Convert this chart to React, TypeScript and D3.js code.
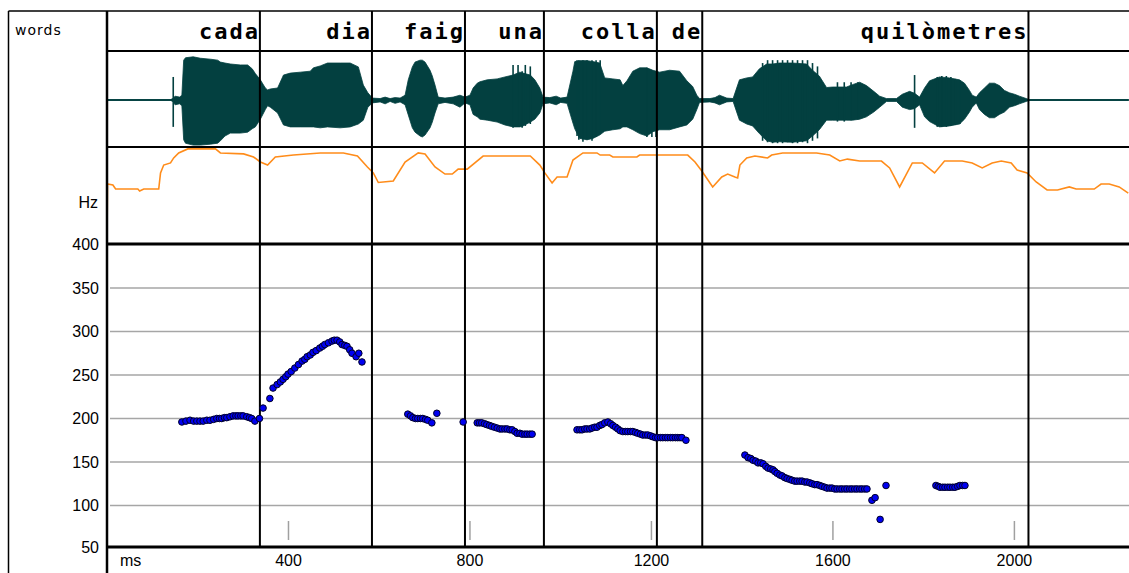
import React from "react";
import * as d3 from "d3";

// ---------- data ----------
const WORDS = ["cada", "dia", "faig", "una", "colla", "de", "quilòmetres", ""];
const WORD_BOUNDS = [0, 337, 584, 789, 963, 1212, 1312, 2031, 2251];

const TIME_TICKS = [400, 800, 1200, 1600, 2000];
const HZ_TICKS = [400, 350, 300, 250, 200, 150, 100, 50];

// pitch points: [ms, Hz]
const PITCH = [
  [165, 196], [174, 197], [183, 198], [191, 197], [198, 197], [205, 197], [212, 197], [220, 198], [227, 198],
  [235, 199], [242, 200], [248, 200], [253, 200], [259, 201], [264, 201], [271, 202], [278, 203], [284, 203],
  [289, 203], [295, 203], [300, 203], [308, 202], [314, 201], [319, 200], [326, 197], [336, 200],
  [344, 212], [359, 223], [366, 235], [375, 239], [382, 242], [388, 245], [394, 248], [399, 251], [406, 254],
  [414, 258], [422, 262], [430, 266], [436, 268], [441, 271], [448, 273], [454, 276], [461, 278], [469, 281],
  [475, 283], [480, 285], [488, 287], [496, 289], [501, 290], [507, 290], [513, 288], [518, 285], [524, 284],
  [529, 283], [535, 279], [540, 275], [549, 271], [555, 275], [562, 265],
  [663, 205], [669, 203], [674, 201], [680, 200], [685, 200], [691, 200], [696, 200], [702, 199], [707, 198],
  [716, 195], [727, 206],
  [785, 196],
  [816, 195], [821, 195], [826, 195], [832, 194], [837, 193], [843, 192], [848, 191], [854, 190], [860, 189],
  [866, 188], [871, 188], [877, 188], [882, 188], [888, 187], [893, 187], [899, 185], [904, 183], [910, 183],
  [915, 182], [921, 182], [926, 182], [932, 182], [937, 182],
  [1036, 187], [1042, 187], [1047, 187], [1053, 188], [1058, 188], [1064, 188], [1069, 189], [1075, 190],
  [1080, 190], [1086, 192], [1091, 193], [1097, 195], [1104, 196], [1110, 194], [1115, 192], [1121, 190],
  [1126, 188], [1131, 186], [1137, 185], [1143, 185], [1148, 185], [1154, 185], [1159, 185], [1165, 184],
  [1170, 183], [1176, 182], [1181, 181], [1187, 181], [1192, 181], [1198, 180], [1203, 179], [1209, 178],
  [1214, 178], [1220, 178], [1225, 178], [1231, 178], [1236, 178], [1242, 178], [1247, 178], [1253, 178],
  [1258, 178], [1263, 178], [1267, 178], [1276, 175],
  [1406, 158], [1413, 155], [1419, 154], [1424, 152], [1430, 151], [1435, 149], [1441, 149], [1446, 148],
  [1452, 145], [1457, 143], [1463, 142], [1468, 141], [1472, 139], [1477, 137], [1483, 135], [1488, 134],
  [1494, 132], [1499, 131], [1505, 130], [1510, 129], [1516, 128], [1521, 128], [1527, 128], [1532, 128],
  [1538, 127], [1543, 127], [1549, 126], [1554, 125], [1560, 124], [1565, 124], [1571, 123], [1576, 122],
  [1582, 121], [1587, 120], [1593, 120], [1598, 120], [1604, 119], [1609, 119], [1615, 119], [1620, 119],
  [1626, 119], [1631, 119], [1637, 119], [1642, 119], [1648, 119], [1653, 119], [1659, 119], [1664, 119],
  [1670, 119], [1675, 119], [1686, 106], [1693, 109], [1704, 84], [1717, 123],
  [1827, 123], [1832, 122], [1836, 121], [1842, 121], [1847, 121], [1853, 121], [1858, 121], [1864, 121],
  [1869, 121], [1875, 122], [1880, 123], [1886, 123], [1891, 123],
];

// intensity curve: [ms, dB]
const INTENSITY = [
  [0, 30], [1, 60.7], [13, 60.2], [19, 58.1], [68, 58.1], [72, 57.1], [81, 58.1], [114, 58.1], [118, 66.5],
  [125, 70.6], [140, 71.7], [147, 74.3], [158, 76.9], [178, 79.0], [239, 79.0], [250, 76.9], [301, 76.4],
  [323, 74.8], [338, 72.2], [354, 70.6], [371, 74.8], [411, 75.8], [470, 76.9], [521, 76.9], [552, 75.3],
  [574, 69.6], [587, 66.5], [598, 61.5], [631, 62.3], [657, 72.2], [686, 76.9], [701, 76.4], [723, 69.6],
  [745, 65.9], [761, 65.9], [774, 68.5], [794, 68.5], [829, 75.3], [933, 75.3], [954, 70.6], [965, 66.5],
  [981, 61.3], [992, 64.4], [1014, 64.4], [1027, 73.2], [1049, 76.9], [1080, 76.9], [1087, 75.8], [1108, 75.8],
  [1115, 74.8], [1168, 74.8], [1174, 75.8], [1280, 75.8], [1296, 72.2], [1311, 67.5], [1335, 59.2], [1355, 64.4],
  [1368, 65.9], [1384, 64.4], [1390, 63.9], [1395, 70.6], [1410, 74.3], [1428, 75.3], [1456, 74.3], [1465, 75.8],
  [1489, 76.9], [1564, 76.9], [1593, 75.8], [1615, 72.7], [1632, 73.7], [1659, 72.7], [1707, 72.7], [1725, 69.1],
  [1747, 59.2], [1775, 71.7], [1797, 71.7], [1824, 66.5], [1846, 72.7], [1885, 72.7], [1907, 71.7], [1929, 69.1],
  [1951, 71.7], [1971, 72.7], [1993, 71.7], [2006, 68.0], [2028, 66.5], [2048, 61.8], [2072, 57.6], [2095, 57.6],
  [2121, 59.2], [2136, 58.1], [2176, 58.1], [2191, 60.7], [2209, 60.7], [2231, 59.2], [2251, 56.0],
];

// waveform envelope: [ms, top %, bottom %]
const WAVE_ENVELOPE = [
  [0, 1, -1], [140, 1, -1], [145, 3, -3], [150, 8, -10], [160, 6, -8], [165, 10, -12], [169, 83, -83],
  [173, 88, -90], [190, 90, -94], [206, 87, -94], [228, 85, -92], [244, 83, -90], [250, 79, -85], [260, 77, -75],
  [272, 75, -69], [294, 73, -69], [310, 73, -67], [320, 65, -60], [327, 55, -56], [338, 42, -40], [349, 25, -20],
  [354, 21, -12],
  [360, 23, -15], [376, 25, -27], [389, 52, -52], [404, 56, -56], [426, 58, -56], [448, 60, -56], [455, 67, -56],
  [470, 71, -58], [486, 77, -56], [514, 77, -58], [536, 77, -56], [554, 69, -50], [565, 31, -42], [575, 15, -15],
  [585, 4, -6],
  [602, 3, -4], [613, 6, -8], [624, 3, -3], [635, 5, -7], [646, 4, -4],
  [657, 10, -10], [664, 42, -31], [673, 69, -58], [679, 79, -67], [690, 83, -75], [695, 83, -77], [701, 79, -73],
  [712, 62, -58], [717, 50, -46], [723, 31, -27], [730, 6, -8],
  [745, 4, -5], [763, 6, -8], [778, 10, -15], [789, 6, -6], [800, 10, -10],
  [807, 25, -30], [816, 35, -35], [822, 38, -40], [838, 42, -42], [860, 44, -46], [877, 48, -52], [895, 52, -56],
  [910, 58, -56], [917, 56, -54], [933, 52, -46], [943, 42, -40], [954, 25, -27], [961, 6, -8],
  [976, 5, -6], [990, 8, -10], [1000, 4, -5], [1014, 6, -7],
  [1027, 60, -48], [1031, 80, -60], [1042, 82, -80], [1058, 82, -83], [1071, 80, -80], [1086, 77, -73],
  [1097, 46, -65], [1115, 44, -62], [1131, 42, -60], [1137, 30, -56], [1146, 40, -56], [1159, 60, -62],
  [1174, 67, -70], [1190, 67, -75], [1203, 62, -66], [1218, 58, -62], [1240, 62, -62], [1262, 60, -56],
  [1278, 40, -52], [1291, 28, -40], [1300, 10, -20], [1306, 3, -5],
  [1329, 3, -4], [1340, 5, -6], [1350, 10, -10], [1366, 4, -4], [1380, 3, -3],
  [1394, 42, -42], [1410, 46, -50], [1423, 48, -54], [1438, 65, -70], [1454, 75, -85], [1467, 75, -88],
  [1482, 77, -87], [1511, 77, -88], [1542, 75, -85], [1555, 62, -75], [1570, 50, -62], [1586, 26, -42],
  [1599, 27, -42], [1630, 27, -42], [1643, 32, -42], [1659, 37, -40], [1674, 30, -35], [1690, 18, -25],
  [1703, 8, -15], [1718, 3, -3],
  [1740, 3, -3], [1753, 12, -15], [1769, 18, -20], [1780, 14, -18], [1791, 6, -10], [1802, 25, -35],
  [1813, 40, -45], [1835, 48, -56], [1857, 46, -54], [1879, 42, -50], [1890, 35, -40], [1901, 20, -25],
  [1907, 10, -15], [1916, 6, -6], [1923, 15, -20], [1934, 25, -30], [1945, 35, -37], [1956, 35, -37],
  [1967, 30, -30], [1978, 20, -25], [1989, 15, -15], [2000, 12, -12], [2011, 8, -8], [2026, 3, -3],
  [2033, 1, -1], [2251, 1, -1],
];

// thin spikes of the waveform: [ms, top %, bottom %]
const WAVE_SPIKES = [
  [146, 48, -56],
  [895, 73, -58], [906, 73, -52], [915, 60, -58], [922, 73, -54], [933, 70, -50],
  [1036, 83, -75], [1040, 83, -83], [1049, 83, -87], [1058, 83, -83], [1069, 83, -85], [1078, 83, -77],
  [1087, 83, -70], [1190, 67, -77], [1201, 62, -77], [1210, 60, -77],
  [1445, 77, -85], [1456, 83, -88], [1467, 83, -90], [1478, 83, -90], [1489, 83, -90], [1500, 83, -88],
  [1511, 83, -90], [1522, 83, -90], [1533, 83, -88], [1544, 83, -90], [1555, 77, -85], [1566, 70, -80],
  [1610, 37, -45], [1625, 37, -45], [1640, 37, -42], [1655, 37, -40],
  [1780, 52, -58],
  [1830, 48, -56], [1840, 50, -56], [1850, 50, -56], [1860, 48, -54], [1870, 44, -52], [1880, 40, -50],
];

// ---------- layout ----------
const W = 1129;
const H = 573;
const LEFT = 8.5;
const COL = 107;
const TOP = 11;
const WORD_BOTTOM = 51;
const WAVE_BOTTOM = 147;
const INT_BOTTOM = 244;
const PITCH_BOTTOM = 547;

const x = d3.scaleLinear().domain([0, 2000]).range([107, 1014.4]);
const yHz = d3.scaleLinear().domain([50, 400]).range([549, 244.5]);
const yDb = d3.scaleLinear().domain([30, 80]).range([243, 147]);
const yAmp = d3.scaleLinear().domain([-100, 100]).range([148, 52]);

const WAVE_COLOR = "#034040";
const NUM_FONT = "'Liberation Sans', Arial, sans-serif";

export default function App() {
  const waveArea = d3
    .area<number[]>()
    .x((d) => x(d[0]))
    .y0((d) => yAmp(d[2]))
    .y1((d) => yAmp(d[1]))(WAVE_ENVELOPE as number[][]);

  const intLine = d3
    .line<number[]>()
    .x((d) => x(d[0]))
    .y((d) => yDb(d[1]))(INTENSITY as number[][]);

  const gridTicks = HZ_TICKS.filter((t) => t > 50 && t < 400);
  const ls = 2.0;

  return (
    <svg
      width={W}
      height={H}
      style={{ position: "absolute", left: 0, top: 0, background: "#fff" }}
    >
      <rect x={0} y={0} width={W} height={H} fill="#fff" />

      {/* waveform */}
      <line x1={COL} x2={W} y1={yAmp(0)} y2={yAmp(0)} stroke={WAVE_COLOR} strokeWidth={1.5} />
      <path d={waveArea || ""} fill={WAVE_COLOR} stroke={WAVE_COLOR} strokeWidth={0.8} />
      {WAVE_SPIKES.map((d, i) => (
        <line
          key={"sp" + i}
          x1={x(d[0])}
          x2={x(d[0])}
          y1={yAmp(d[1])}
          y2={yAmp(d[2])}
          stroke={WAVE_COLOR}
          strokeWidth={1.6}
        />
      ))}

      {/* intensity */}
      <path d={intLine || ""} fill="none" stroke="#ff8c1a" strokeWidth={1.6} />

      {/* pitch grid */}
      {gridTicks.map((t) => (
        <line
          key={"g" + t}
          x1={COL + 3}
          x2={W}
          y1={yHz(t)}
          y2={yHz(t)}
          stroke="#a6a6a6"
          strokeWidth={1.5}
        />
      ))}
      {TIME_TICKS.map((t) => (
        <line
          key={"tk" + t}
          x1={x(t)}
          x2={x(t)}
          y1={521}
          y2={540}
          stroke="#a0a0a0"
          strokeWidth={1.5}
        />
      ))}

      {/* word boundaries */}
      {WORD_BOUNDS.slice(1, -1).map((b) => (
        <line
          key={"wb" + b}
          x1={x(b)}
          x2={x(b)}
          y1={TOP}
          y2={PITCH_BOTTOM}
          stroke="#000"
          strokeWidth={2}
        />
      ))}

      {/* pitch points */}
      {PITCH.map((d, i) => (
        <circle
          key={"p" + i}
          cx={x(d[0])}
          cy={yHz(d[1])}
          r={3.3}
          fill="#0000f0"
          stroke="#000028"
          strokeWidth={1}
        />
      ))}

      {/* frame */}
      <line x1={LEFT} x2={W} y1={TOP} y2={TOP} stroke="#000" strokeWidth={1.5} />
      <line x1={LEFT} x2={LEFT} y1={TOP} y2={H} stroke="#000" strokeWidth={1.5} />
      <line x1={COL} x2={COL} y1={TOP} y2={H} stroke="#000" strokeWidth={2.5} />
      <line x1={COL} x2={W} y1={WORD_BOTTOM} y2={WORD_BOTTOM} stroke="#000" strokeWidth={2} />
      <line x1={COL} x2={W} y1={WAVE_BOTTOM} y2={WAVE_BOTTOM} stroke="#000" strokeWidth={2} />
      <line x1={COL} x2={W} y1={INT_BOTTOM} y2={INT_BOTTOM} stroke="#000" strokeWidth={3} />
      <line x1={COL} x2={W} y1={PITCH_BOTTOM} y2={PITCH_BOTTOM} stroke="#000" strokeWidth={3} />

      {/* words */}
      <text
        x={15}
        y={35}
        fontFamily="'DejaVu Sans', sans-serif"
        fontSize={14}
        letterSpacing={1}
        fill="#000"
      >
        words
      </text>
      {WORDS.map((w, i) =>
        w ? (
          <text
            key={"w" + i}
            x={x(WORD_BOUNDS[i + 1]) - 2 + ls}
            y={39}
            textAnchor="end"
            fontFamily="'DejaVu Sans Mono', monospace"
            fontWeight="bold"
            fontSize={22}
            letterSpacing={ls}
            fill="#000"
          >
            {w}
          </text>
        ) : null
      )}

      {/* Hz axis labels */}
      <text x={98} y={208} textAnchor="end" fontFamily={NUM_FONT} fontSize={16} fill="#000">
        Hz
      </text>
      {HZ_TICKS.map((t) => (
        <text
          key={"hl" + t}
          x={99}
          y={yHz(t) + (t === 50 ? -2 : 0)}
          dy="0.36em"
          textAnchor="end"
          fontFamily={NUM_FONT}
          fontSize={16}
          fill="#000"
        >
          {t}
        </text>
      ))}

      {/* time axis labels */}
      <text x={120} y={566} fontFamily={NUM_FONT} fontSize={16} fill="#000">
        ms
      </text>
      {TIME_TICKS.map((t) => (
        <text
          key={"tl" + t}
          x={x(t)}
          y={566}
          textAnchor="middle"
          fontFamily={NUM_FONT}
          fontSize={16}
          fill="#000"
        >
          {t}
        </text>
      ))}
    </svg>
  );
}
